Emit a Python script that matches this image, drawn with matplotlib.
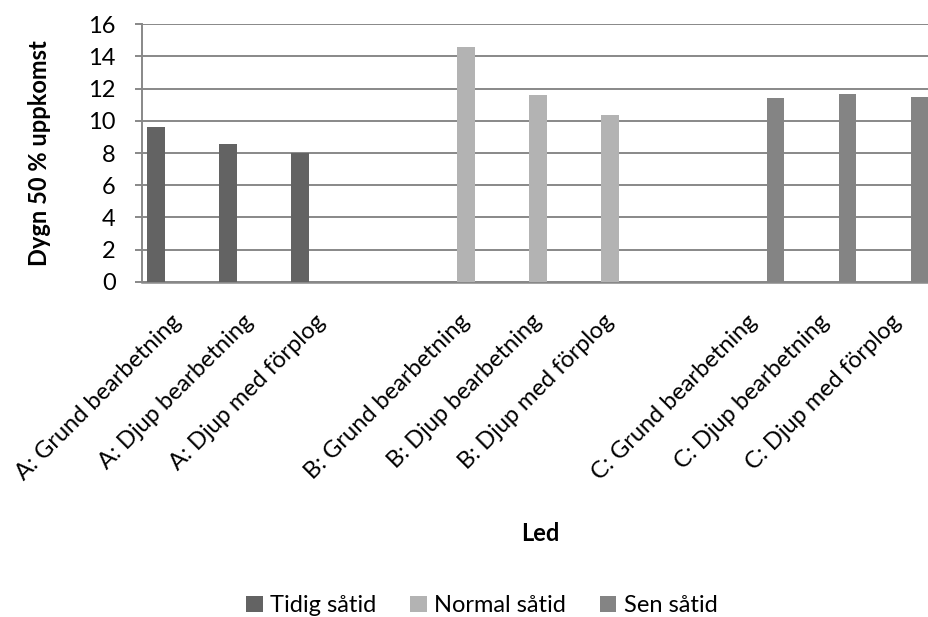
import numpy as np
import matplotlib
matplotlib.use("Agg")
import matplotlib.pyplot as plt

plt.rcParams['font.family'] = ['Lato', 'DejaVu Sans']

# categories (blank entries separate the three groups)
led = ["A: Grund bearbetning", "A: Djup bearbetning", "A: Djup med förplog", "",
       "B: Grund bearbetning", "B: Djup bearbetning", "B: Djup med förplog", "",
       "C: Grund bearbetning", "C: Djup bearbetning", "C: Djup med förplog"]

# days to 50 % emergence per sowing time
tidig = [9.6, 8.57, 8.0, None, None, None, None, None, None, None, None]
normal = [None, None, None, None, 14.55, 11.57, 10.35, None, None, None, None]
sen = [None, None, None, None, None, None, None, None, 11.43, 11.66, 11.47]

series = ["Tidig såtid", "Normal såtid", "Sen såtid"]
colors = ["#636363", "#b3b3b3", "#848484"]

fig = plt.figure(figsize=(9.29, 6.17), dpi=100)
ax = fig.add_axes([0.1529, 0.543, 0.852, 0.418])

x = np.arange(len(led))
width = 0.245
step = 0.305
for i, (name, vals, c) in enumerate(zip(series, [tidig, normal, sen], colors)):
    v = np.array([np.nan if y is None else y for y in vals], dtype=float)
    ax.bar(x + (i - 1) * step, v, width, color=c, label=name, zorder=3)

ax.set_xlim(-0.5, len(led) - 0.5)
ax.set_ylim(0, 16)
ax.set_yticks(range(0, 17, 2))
ax.yaxis.grid(True, color="#888888", linewidth=1.4, zorder=0)
ax.set_axisbelow(True)

for s in ["top", "right"]:
    ax.spines[s].set_visible(False)
ax.spines["left"].set_color("#888888")
ax.spines["left"].set_linewidth(1.4)
ax.spines["bottom"].set_color("#888888")
ax.spines["bottom"].set_linewidth(1.8)

ax.tick_params(axis="y", direction="out", length=5, color="#888888",
               width=1.4, labelsize=17, pad=14)
ax.tick_params(axis="x", length=0, labelsize=17, pad=26)
ax.set_xticks(x)
ax.set_xticklabels(led, rotation=45, ha="right", va="center",
                   rotation_mode="anchor")

ax.set_ylabel("Dygn 50 % uppkomst", fontsize=17, fontweight="bold", labelpad=27)
fig.text(0.582, 0.136, "Led", fontsize=17, fontweight="bold",
         ha="center", va="center")

fig.legend(loc="center", bbox_to_anchor=(0.5185, 0.018), ncol=3, frameon=False,
           fontsize=17, handlelength=0.7, handleheight=0.7,
           handletextpad=0.3, columnspacing=1.45)

fig.savefig("out.png", dpi=100)
